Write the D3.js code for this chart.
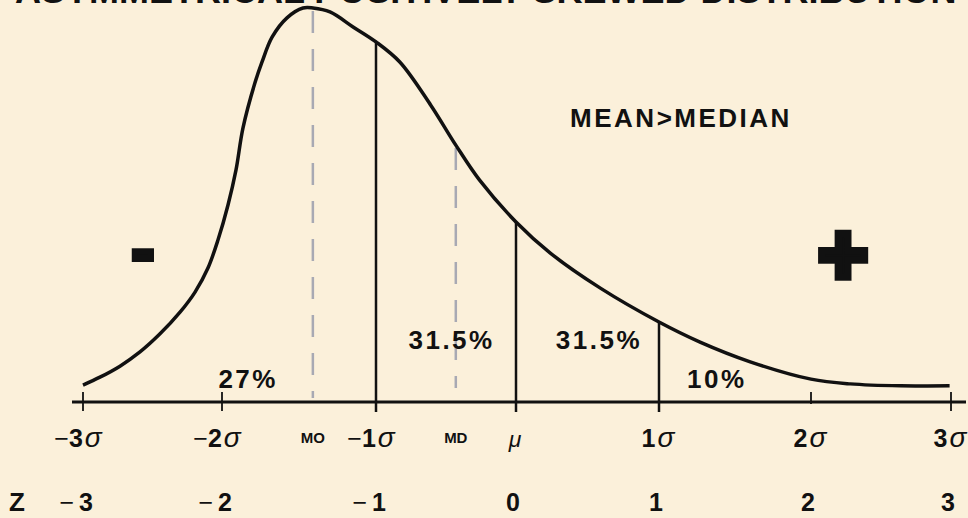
<!DOCTYPE html>
<meta charset="utf-8">
<script src="https://d3js.org/d3.v7.min.js"></script>
<style>
  body { margin: 0; background: #fbf0da; }
  svg { display: block; }
  text { font-family: "Liberation Sans", Arial, sans-serif; fill: #111; }
</style>
<body>
<div id="chart"></div>
<script>
// curve: z position and relative height (peak = 1)
var curveZ = [-3, -2.878, -2.734, -2.590, -2.446, -2.302, -2.194, -2.101, -2.029, -1.961, -1.909,
              -1.864, -1.786, -1.740, -1.675, -1.578, -1.474, -1.409, -1.299, -1.149, -1,
              -0.83, -0.61, -0.43, -0.26, 0, 0.24, 0.59, 1, 1.27, 1.60, 2, 2.28, 2.64, 2.99];
var curveH = [0.043, 0.063, 0.091, 0.127, 0.173, 0.228, 0.279, 0.340, 0.411, 0.500, 0.589,
              0.695, 0.810, 0.863, 0.926, 0.975, 1.0, 1.0, 0.990, 0.952, 0.914,
              0.863, 0.754, 0.652, 0.563, 0.457, 0.378, 0.289, 0.203, 0.152, 0.102, 0.058, 0.046, 0.041, 0.041];

var zTicks = [-3, -2, -1, 0, 1, 2, 3];

// vertical markers
var markerNames = ["MO", "-1σ", "MD", "μ", "1σ"];
var markerZ = [-1.41, -1, -0.43, 0, 1];
var markerDashed = [true, false, true, false, false];

// area percentages
var pctLabels = ["27%", "31.5%", "31.5%", "10%"];
var pctZ = [-1.83, -0.46, 0.58, 1.38];
var pctRow = [0, 1, 1, 0];

var titleText = "ASYMMETRICAL POSITIVELY SKEWED DISTRIBUTION";
var noteText = "MEAN>MEDIAN";

var width = 968, height = 518;
var baseY = 402;

var svg = d3.select("#chart").append("svg")
    .attr("width", width)
    .attr("height", height);

svg.append("rect").attr("width", width).attr("height", height).attr("fill", "#fbf0da");

var x = d3.scaleLinear()
    .domain(zTicks)
    .range([83, 222, 376, 516, 659, 811, 951]);

var y = d3.scaleLinear()
    .domain([0, 1])
    .range([baseY, 8]);

function heightAt(z) {
    for (var i = 1; i < curveZ.length; i++) {
        if (z <= curveZ[i]) {
            var t = (z - curveZ[i - 1]) / (curveZ[i] - curveZ[i - 1]);
            return curveH[i - 1] + t * (curveH[i] - curveH[i - 1]);
        }
    }
    return curveH[curveH.length - 1];
}

// title, cut off at the top like the slide it came from
svg.append("text")
    .attr("x", 15)
    .attr("y", 3)
    .style("font-size", "36px")
    .style("font-weight", "bold")
    .text(titleText);

// vertical markers
markerZ.forEach(function(z, i) {
    var dashed = markerDashed[i];
    svg.append("line")
        .attr("x1", x(z)).attr("x2", x(z))
        .attr("y1", dashed ? y(heightAt(z)) + 3 : y(heightAt(z)))
        .attr("y2", dashed ? baseY - (i == 0 ? 4 : 14) : baseY + 10)
        .attr("stroke", dashed ? "#a8a9b3" : "#111")
        .attr("stroke-width", 2.5)
        .attr("stroke-dasharray", dashed ? "22,16" : null);
});

// axis line
svg.append("line")
    .attr("x1", 72).attr("x2", 966)
    .attr("y1", baseY).attr("y2", baseY)
    .attr("stroke", "#111").attr("stroke-width", 3);

// small ticks where there is no marker line
zTicks.forEach(function(t) {
    if (markerZ.indexOf(t) >= 0) return;
    svg.append("line")
        .attr("x1", x(t)).attr("x2", x(t))
        .attr("y1", baseY - 10).attr("y2", baseY + (t == 2 ? 2 : 9))
        .attr("stroke", "#111").attr("stroke-width", 1.8);
});

// the curve
var line = d3.line()
    .x(function(d, i) { return x(curveZ[i]); })
    .y(function(d) { return y(d); })
    .curve(d3.curveCatmullRom.alpha(0.5));

svg.append("path")
    .attr("d", line(curveH))
    .attr("fill", "none")
    .attr("stroke", "#111")
    .attr("stroke-width", 3.5);

// sigma labels under the axis
zTicks.forEach(function(t) {
    var g = svg.append("text")
        .attr("x", x(t) + (t < 0 ? -5 : -1))
        .attr("y", 447)
        .attr("text-anchor", "middle")
        .style("font-size", "25px");
    if (t == 0) {
        g.append("tspan").style("font-style", "italic").style("font-size", "23px").text("μ");
        return;
    }
    if (t < 0) g.append("tspan").style("font-weight", "normal").text("−");
    g.append("tspan").style("font-weight", "bold").text(Math.abs(t));
    g.append("tspan").style("font-style", "italic").style("font-size", "28px").attr("dx", 2).text("σ");
});

// MO and MD labels
[0, 2].forEach(function(i) {
    svg.append("text")
        .attr("x", x(markerZ[i]))
        .attr("y", 443)
        .attr("text-anchor", "middle")
        .style("font-size", "15px")
        .style("font-weight", "bold")
        .text(markerNames[i]);
});

// Z row
svg.append("text")
    .attr("x", 9).attr("y", 511)
    .style("font-size", "26px").style("font-weight", "bold")
    .text("Z");

zTicks.forEach(function(t) {
    var cx = x(t) + (t < 0 ? 3 : -3);
    svg.append("text")
        .attr("x", cx).attr("y", 511)
        .attr("text-anchor", "middle")
        .style("font-size", "25px").style("font-weight", "bold")
        .text(Math.abs(t));
    if (t < 0) {
        svg.append("text")
            .attr("x", cx - 12).attr("y", 511)
            .attr("text-anchor", "end")
            .style("font-size", "25px")
            .text("−");
    }
});

// percentage labels
pctLabels.forEach(function(p, i) {
    svg.append("text")
        .attr("x", x(pctZ[i]))
        .attr("y", pctRow[i] == 1 ? 349 : 388)
        .attr("text-anchor", "middle")
        .style("font-size", "26px")
        .style("font-weight", "bold")
        .style("letter-spacing", "2.5px")
        .text(p);
});

svg.append("text")
    .attr("x", 681).attr("y", 127)
    .attr("text-anchor", "middle")
    .style("font-size", "26px")
    .style("font-weight", "bold")
    .style("letter-spacing", "2.5px")
    .text(noteText);

// minus and plus signs
svg.append("text")
    .attr("x", 143).attr("y", 272)
    .attr("text-anchor", "middle")
    .style("font-size", "64px").style("font-weight", "bold")
    .attr("stroke", "#111").attr("stroke-width", 6)
    .text("-");

svg.append("text")
    .attr("x", 843).attr("y", 284)
    .attr("text-anchor", "middle")
    .style("font-size", "85px").style("font-weight", "bold")
    .attr("stroke", "#111").attr("stroke-width", 7.5)
    .text("+");
</script>
</body>
